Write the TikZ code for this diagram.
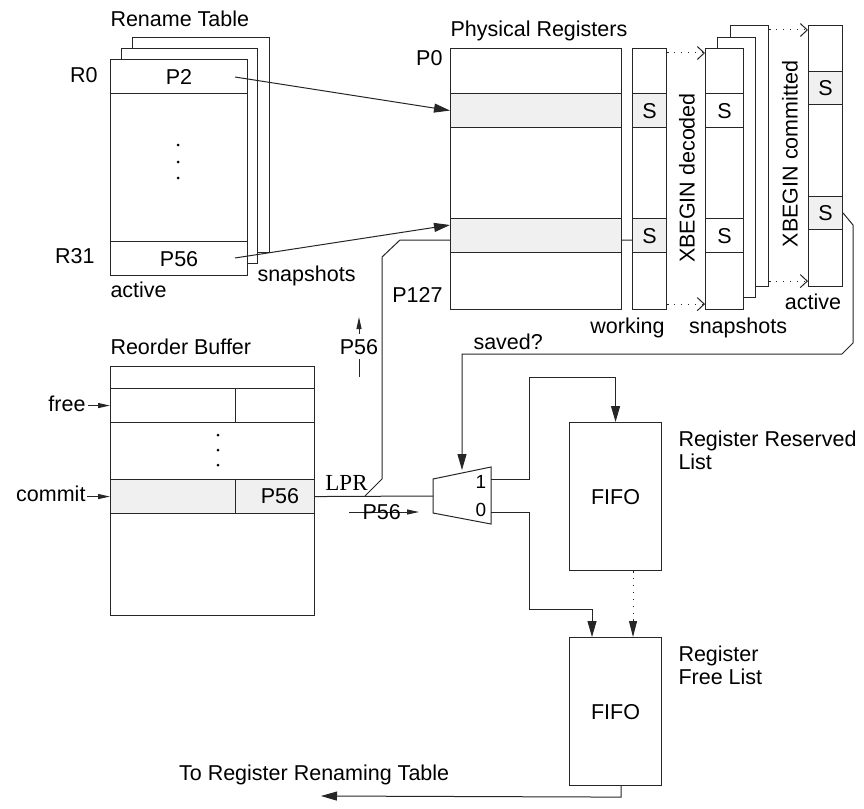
\documentclass[tikz,border=0pt]{standalone}
\usepackage{fontspec}
\setmainfont{Liberation Sans}
\newfontfamily\lprfont{Liberation Serif}
\usetikzlibrary{arrows.meta,calc}
\begin{document}
\begin{tikzpicture}[x=1pt,y=-1pt,
  line width=1pt,
  wire/.style={draw=black!85, line width=1pt},
  box/.style={draw=black!85, line width=1.1pt, fill=white, inner sep=0pt, anchor=north west,
     font=\fontsize{21.5}{24}\selectfont, text height=15.4pt, text depth=0pt},
  shade/.style={box, fill=black!6},
  lbl/.style={font=\fontsize{21.5}{24}\selectfont, inner sep=0pt, text height=15.4pt, text depth=0pt},
  arr/.style={wire, -{Triangle[length=16pt,width=9pt]}},
  smallarr/.style={wire, -{Triangle[length=12pt,width=5pt]}},
  dotarr/.style={wire, dash pattern=on 1.4pt off 5.5pt, -{Straight Barb[length=7pt,width=13pt,line width=1pt]}},
  dotarrf/.style={wire, dash pattern=on 1.4pt off 5.5pt, -{Triangle[length=16pt,width=8pt]}},
  dot/.style={circle, fill=black, inner sep=0pt, minimum size=3pt}
]
\useasboundingbox (0,0) rectangle (864,808);

% ---------- Rename table ----------
\node[box, minimum width=137pt, minimum height=215pt] (rtS2) at (132,37) {};
\node[box, minimum width=136pt, minimum height=215pt] (rtS1) at (121,48) {};
\node[box, minimum width=137pt, minimum height=216pt] (rt) at (110,59) {};
\node[box, minimum width=137pt, minimum height=34pt] (rt0) at (110,59) {P2};
\node[box, minimum width=137pt, minimum height=34pt] (rt31) at (110,241) {P56};
\node[dot] (rtd1) at (178,145) {};
\node[dot] (rtd2) at (178,162) {};
\node[dot] (rtd3) at (178,178) {};
\node[lbl, anchor=west] (rtTitle) at (110,18.5) {Rename Table};
\node[lbl, anchor=east] (lR0) at (98,75) {R0};
\node[lbl, anchor=east] (lR31) at (95,256) {R31};
\node[lbl, anchor=west] (rtAct) at (110,290) {active};
\node[lbl, anchor=west] (rtSnap) at (257,274) {snapshots};

% ---------- LPR wire (behind the register file) ----------
\coordinate (lprsplit) at (365,496);
\coordinate (wkin) at (632,240);
\draw[wire] (lprsplit) -- (382,479) -- (382,257) -- (400,240) -- (wkin);

% ---------- Physical registers ----------
\node[box, minimum width=171pt, minimum height=261pt] (pr) at (450,48) {};
\node[shade, minimum width=171pt, minimum height=34pt] (pr1) at (450,93) {};
\node[shade, minimum width=171pt, minimum height=34pt] (pr2) at (450,218) {};
\node[lbl, anchor=west] (prTitle) at (450,29) {Physical Registers};
\node[lbl, anchor=east] (lP0) at (443,57.5) {P0};
\node[lbl, anchor=east] (lP127) at (443,295) {P127};

% working column
\node[box, minimum width=34pt, minimum height=261pt] (wk) at (632,48) {};
\node[shade, minimum width=34pt, minimum height=34pt] (wk1) at (632,93) {S};
\node[shade, minimum width=34pt, minimum height=34pt] (wk2) at (632,218) {S};
\node[lbl] (lwk) at (627.5,325.5) {working};

% decoded snapshots
\node[box, minimum width=38pt, minimum height=261pt] (ds3) at (730,25) {};
\node[box, minimum width=38pt, minimum height=260pt] (ds2) at (717,37) {};
\node[box, minimum width=38pt, minimum height=261pt] (ds1) at (705,48) {};
\node[box, minimum width=38pt, minimum height=34pt] (ds1a) at (705,93) {S};
\node[box, minimum width=38pt, minimum height=34pt] (ds1b) at (705,218) {S};
\node[lbl] (lds) at (738,325.5) {snapshots};
\node[lbl, rotate=90] (xdec) at (687,178) {XBEGIN decoded};

% active committed column
\node[box, minimum width=34pt, minimum height=261pt] (ac) at (808,25) {};
\node[shade, minimum width=34pt, minimum height=33pt] (ac1) at (808,71) {S};
\node[shade, minimum width=34pt, minimum height=33pt] (ac2) at (808,196) {S};
\node[lbl] (lac) at (813,301.5) {active};
\node[lbl, rotate=90] (xcom) at (790,154) {XBEGIN committed};

% dotted copy arrows
\draw[dotarr] ($(wk.north east)+(0,5)$) -- ($(ds1.north west)+(0,5)$);
\draw[dotarr] ($(wk.south east)+(0,-6)$) -- ($(ds1.south west)+(0,-6)$);
\draw[dotarr] ($(ds3.north east)+(0,5)$) -- ($(ac.north west)+(0,5)$);
\draw[dotarr] ($(ds3.south east)+(0,-6)$) -- ($(ac.south west)+(0,-6)$);

% rename -> physical arrows
\coordinate (p2src) at (235,77);
\coordinate (p56src) at (235,258);
\draw[arr] (p2src) -- (pr1.west);
\draw[arr] (p56src) -- ($(pr2.north west)+(0,7)$);

% ---------- Reorder buffer ----------
\node[box, minimum width=204pt, minimum height=249pt] (rob) at (110,366) {};
\node[box, minimum width=125pt, minimum height=34pt] (robF1) at (110,388) {};
\node[box, minimum width=79pt, minimum height=34pt] (robF2) at (235,388) {};
\node[shade, minimum width=125pt, minimum height=34pt] (robC1) at (110,479) {};
\node[shade, minimum width=79pt, minimum height=34pt] (robC2) at (235,479) {};
\node[lbl] (robP56) at (280,496) {P56};
\node[dot] (robd1) at (218,435) {};
\node[dot] (robd2) at (218,450) {};
\node[dot] (robd3) at (218,465) {};
\node[lbl, anchor=west] (robTitle) at (110,346.5) {Reorder Buffer};
\node[lbl, anchor=east] (lfree) at (86,403.5) {free};
\node[lbl, anchor=east] (lcommit) at (86,494) {commit};
\draw[smallarr] ($(lfree.east |- robF1.west)+(2,0)$) -- (robF1.west);
\draw[smallarr] ($(lcommit.east |- robC1.west)+(1,0)$) -- (robC1.west);

% ---------- Mux ----------
\coordinate (m1) at (433,479);
\coordinate (m2) at (491,467);
\coordinate (m3) at (491,524);
\coordinate (m4) at (433,513);
\coordinate (muxin) at (433,496);
\coordinate (out1) at (491,479.5);
\coordinate (out0) at (491,512.5);
\coordinate (muxtop) at (462,470);
\draw[wire, fill=white] (m1) -- (m2) -- (m3) -- (m4) -- cycle;
\node[font=\fontsize{19}{21}\selectfont, inner sep=0pt, text height=13.5pt, text depth=0pt] (l1) at (481,482) {1};
\node[font=\fontsize{19}{21}\selectfont, inner sep=0pt, text height=13.5pt, text depth=0pt] (l0) at (481,509.3) {0};

\draw[wire] (robC2.east) -- (muxin);
\node[font=\lprfont\fontsize{23}{25}\selectfont, inner sep=0pt, text height=15.2pt, text depth=0pt] (lLPR) at (346.5,482.5) {LPR};

% P56 annotations
\draw[smallarr] (359,377) -- (359,317);
\node[lbl, fill=white, inner xsep=0pt, inner ysep=5pt] (vP56) at (359,346.5) {P56};
\draw[smallarr] (349,512) -- (419,512);
\node[lbl] (hP56) at (381.7,511.8) {P56};

% saved? feedback
\draw[arr] (ac2.east) -- (853,225) -- (853,343) -- (842,354) -- (462,354) -- (muxtop);
\node[lbl, anchor=west] (lsaved) at (473,341.5) {saved?};

% ---------- FIFOs ----------
\node[box, minimum width=92pt, minimum height=148pt] (fifo1) at (569,422) {FIFO};
\node[box, minimum width=92pt, minimum height=148pt] (fifo2) at (569,637) {FIFO};
\node[anchor=north west, align=left, inner sep=0pt, font=\fontsize{21.5}{23}\selectfont] (lres) at (678,430) {Register Reserved\\List};
\node[anchor=north west, align=left, inner sep=0pt, font=\fontsize{21.5}{23.5}\selectfont] (lfreel) at (678,645) {Register\\Free List};

\draw[arr] (out1) -- ++(38.5,0) |- ($(fifo1.north)+(0,-44.5)$) -- (fifo1.north);
\draw[arr] (out0) -- ++(38.5,0) |- ($(fifo2.north west)+(23,-27.5)$) -- ($(fifo2.north west)+(23,0)$);
\draw[dotarrf] ($(fifo1.south west)+(64,0)$) -- ($(fifo2.north west)+(64,0)$);

\coordinate (rtTarget) at (321,796);
\draw[arr] ($(fifo2.south west)+(52,0)$) -- ++(0,11) -- (rtTarget);
\node[lbl, anchor=west] (ltoRT) at (178.6,772.5) {To Register Renaming Table};
\end{tikzpicture}
\end{document}
